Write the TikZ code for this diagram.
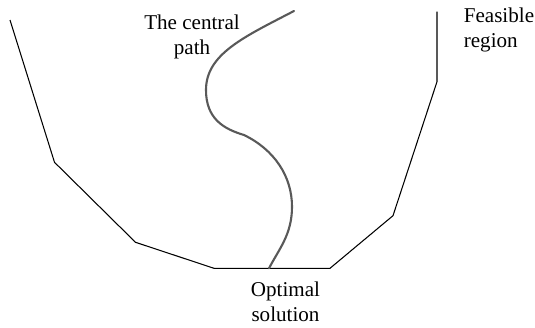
\documentclass[tikz,border=0pt]{standalone}
\usepackage{fontspec}
\setmainfont{Liberation Serif}
\usepackage{tikz}
\usetikzlibrary{positioning, calc}
\tikzset{
    regionedge/.style={draw=black, line width=0.6pt, line join=miter},
    centralcurve/.style={draw=black!65, line width=1.2pt, line cap=round},
    plainlabel/.style={font=\fontsize{12}{14.2}\selectfont, inner sep=0pt, text=black}
}

\begin{document}
\begin{tikzpicture}[x=0.02cm, y=-0.02cm]

\useasboundingbox (0,0) rectangle (535,328);

% corners of the feasible region
\coordinate (c1) at (10,20);
\coordinate (c2) at (54.5,162.3);
\coordinate (c3) at (135.5,242.3);
\coordinate (c4) at (214,268.3);
\coordinate (c5) at (330,268.3);
\coordinate (c6) at (393,215.7);
\coordinate (c7) at (437,81.7);
\coordinate (c8) at (437,11.7);
\coordinate (opt) at (269,268.3);
\coordinate (start) at (294,11);

\draw[regionedge] (c1) -- (c2) -- (c3) -- (c4) -- (c5) -- (c6) -- (c7) -- (c8);

\draw[centralcurve] (start) .. controls (244,37) and (206,54) .. (206,90)
    .. controls (206,119) and (224,129) .. (244,135)
    .. controls (274,149.5) and (292,176) .. (292,206.7)
    .. controls (292,234.5) and (279,249) .. (opt);

\node[plainlabel, align=center, anchor=north] (pathlbl) at (192,14.5) {The central\\path};
\node[plainlabel, align=left, anchor=north west] (regionlbl) at (463.5,7.3) {Feasible\\region};
\node[plainlabel, align=center, anchor=north] (optlbl) at (285.5,281.5) {Optimal\\solution};

\end{tikzpicture}
\end{document}
